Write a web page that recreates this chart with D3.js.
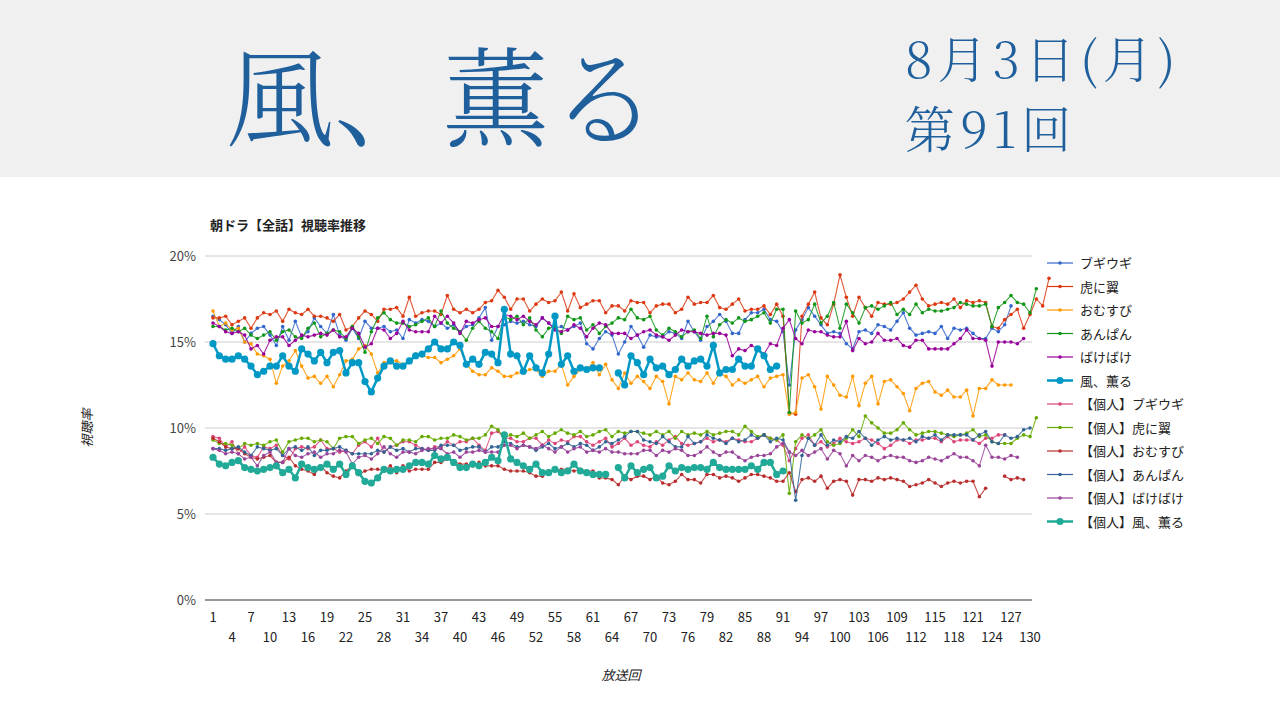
<!DOCTYPE html><html><head><meta charset="utf-8">
<script src="https://cdn.jsdelivr.net/npm/d3@7"></script>
<style>body{margin:0;background:#fff;font-family:"Noto Sans CJK JP","Noto Sans",sans-serif}</style></head><body>
<svg id="c" width="1280" height="720"></svg>
<script>
const seriesNames=["ブギウギ","虎に翼","おむすび","あんぱん","ばけばけ","風、薫る","【個人】ブギウギ","【個人】虎に翼","【個人】おむすび","【個人】あんぱん","【個人】ばけばけ","【個人】風、薫る"];
const colors=["#3366cc","#dc3912","#ff9900","#109618","#990099","#0099c6","#dd4477","#66aa00","#b82e2e","#316395","#994499","#22aa99"];
const yTicks=[0,5,10,15,20];
const boogie=[16.5,16.3,16.0,15.5,15.9,15.0,15.5,15.8,15.9,15.4,14.8,15.9,15.1,16.2,15.3,15.6,16.4,15.9,15.5,16.6,15.4,15.1,15.8,15.2,16.2,15.8,15.8,15.9,15.6,15.7,15.2,16.3,16.1,16.3,16.2,15.9,16.1,15.8,16.0,15.6,15.9,16.0,16.4,17.0,15.1,15.9,16.0,16.2,16.1,16.2,16.0,15.9,16.4,16.1,15.8,15.9,15.7,15.9,16.1,14.9,14.6,15.2,15.6,15.4,14.3,15.0,15.9,15.4,14.7,15.4,15.3,15.3,15.6,15.5,15.2,16.2,15.6,15.1,15.9,16.2,16.6,16.2,15.5,15.5,16.3,16.7,16.7,16.9,16.3,16.2,15.6,12.5,15.7,16.3,17.0,16.5,16.0,15.5,15.6,15.5,14.9,14.6,15.6,15.7,15.5,16.0,15.9,15.7,16.2,16.7,15.8,15.4,15.5,15.6,15.5,15.9,15.2,15.8,15.7,15.8,15.5,15.2,15.2,15.8,15.6,16.0,17.1];
const tora=[16.4,16.4,16.5,16.0,16.2,16.4,15.8,16.4,16.7,16.6,16.8,16.2,16.9,16.7,16.6,16.9,16.5,16.5,16.4,16.2,16.6,15.7,15.9,16.4,16.8,16.6,16.2,16.9,16.9,17.0,16.5,17.6,16.5,16.7,16.8,16.8,16.6,17.7,16.9,16.7,16.9,16.7,16.9,17.3,17.4,18.0,17.6,16.9,17.5,17.5,16.8,17.2,17.5,17.3,17.4,17.9,16.8,17.8,17.0,17.2,17.4,17.4,16.7,17.1,17.1,16.8,17.4,17.3,17.3,16.7,17.1,17.2,17.2,16.7,16.9,17.6,17.2,17.3,17.3,17.7,17.0,16.9,17.2,17.5,16.8,16.9,16.9,17.1,16.6,17.2,16.5,10.9,10.8,16.5,17.2,17.9,16.4,16.0,17.2,18.9,17.6,16.5,17.6,17.0,16.5,17.3,17.2,17.2,17.3,17.5,17.9,18.3,17.5,17.1,17.2,17.3,17.2,17.5,17.0,17.4,17.3,17.4,17.3,15.9,15.8,16.3,16.6,16.9,15.8,16.6,17.5,17.1,18.7];
const omusubi=[16.8,15.9,16.1,15.7,15.8,15.0,14.9,14.3,14.2,14.0,12.6,13.6,13.9,14.5,13.6,12.9,13.0,12.6,13.0,12.4,13.1,13.9,14.0,14.6,14.8,14.3,13.2,13.8,13.9,13.9,13.7,13.9,14.3,14.2,14.1,14.1,13.8,14.0,14.2,14.6,13.7,13.3,13.1,13.1,13.5,13.3,13.0,13.0,13.2,13.2,13.4,13.4,13.0,13.3,13.3,13.7,12.5,13.0,13.4,13.4,13.8,13.1,13.7,12.8,12.3,13.2,12.6,13.0,12.7,12.3,13.0,12.7,11.4,13.0,12.8,13.2,12.8,12.7,13.2,12.6,13.2,13.0,12.5,12.8,12.6,12.8,13.0,12.4,12.9,13.0,13.1,10.8,10.9,12.9,13.1,12.4,11.1,13.0,12.5,11.9,11.8,13.0,11.3,12.6,13.0,11.4,12.7,12.8,12.4,12.0,11.0,12.3,12.6,12.7,12.1,11.9,12.2,11.8,11.8,12.2,10.7,12.3,12.3,12.8,12.5,12.5,12.5];
const anpan=[15.9,15.9,15.7,15.8,15.6,15.8,15.4,15.2,15.4,15.6,15.1,15.6,15.7,15.3,15.2,15.8,16.1,15.3,15.5,15.7,15.6,15.2,15.9,15.3,14.4,15.6,16.4,16.7,16.3,16.1,16.1,15.9,16.0,16.2,16.4,15.9,16.8,16.1,15.8,15.6,15.1,15.8,16.2,15.8,15.6,15.2,16.5,16.3,16.5,16.0,16.4,15.7,15.3,15.8,15.9,15.5,16.5,16.3,16.4,15.7,16.0,15.5,15.9,16.1,16.4,16.3,16.9,16.4,16.3,16.5,15.7,15.4,15.8,15.6,15.3,15.6,15.7,15.2,16.5,15.3,16.0,16.3,16.1,16.4,16.2,16.3,16.5,16.7,16.1,16.9,16.9,10.9,16.8,16.1,16.3,17.2,16.1,16.5,17.3,15.8,17.2,16.7,16.1,17.0,17.1,16.9,17.1,17.3,16.6,16.9,16.6,17.2,16.7,16.9,16.8,16.8,16.9,17.0,17.3,17.2,17.1,17.1,17.2,15.9,17.0,17.3,17.7,17.3,17.2,16.7,18.1];
const bakebake=[16.1,15.9,15.6,15.5,15.6,15.4,14.6,14.8,14.3,15.1,15.3,15.3,14.8,15.1,15.4,15.3,15.4,15.5,15.4,15.7,15.3,15.3,15.8,15.5,14.7,14.9,15.8,15.7,15.2,15.5,16.2,15.7,15.6,15.6,15.6,16.5,16.1,16.5,16.1,15.5,16.2,16.1,16.3,16.4,15.9,15.9,16.6,16.5,16.3,16.5,16.2,16.0,16.4,16.1,15.7,15.6,15.7,16.0,15.8,15.3,15.8,16.1,16.0,15.5,15.5,15.5,15.2,15.4,15.6,15.7,15.4,15.3,15.1,15.4,15.7,15.6,15.6,15.5,15.4,15.5,15.5,15.4,14.2,14.6,14.5,14.8,14.6,14.3,14.9,14.8,15.8,16.3,15.2,14.9,15.7,15.6,15.6,15.4,15.3,15.3,16.2,14.5,15.2,14.9,15.0,15.5,15.1,15.1,15.2,14.8,14.7,15.1,15.1,14.6,14.6,14.6,14.6,14.9,15.2,15.7,15.2,15.2,15.1,13.6,15.0,15.0,15.0,14.9,15.2];
const kaoru=[14.9,14.2,14.0,14.0,14.2,14.0,13.6,13.1,13.3,13.6,13.6,14.2,13.6,13.3,14.6,14.3,13.9,14.4,13.8,14.4,14.5,13.2,13.8,13.8,12.7,12.1,12.9,13.6,13.9,13.6,13.6,13.9,14.2,14.3,14.6,15.0,14.6,14.6,15.0,14.8,13.7,14.0,13.7,14.4,14.3,13.8,16.9,14.3,14.2,13.3,14.2,13.5,13.2,14.3,16.5,13.7,14.2,13.3,13.5,13.4,13.5,13.5,null,null,13.2,12.5,14.2,13.8,13.1,14.0,13.5,13.6,13.1,13.4,14.0,13.6,13.9,14.0,13.6,14.8,13.2,13.4,13.4,14.0,13.6,13.6,14.6,14.2,13.4,13.6];
const p_boogie=[9.5,9.4,8.9,9.2,8.5,8.9,8.4,8.3,8.9,8.8,9.0,8.4,8.2,8.8,8.9,8.8,8.9,9.3,8.8,8.8,8.6,8.7,8.5,9.0,9.2,8.9,9.4,8.6,8.9,9.0,9.2,9.2,9.0,8.8,8.7,8.9,8.9,9.2,9.0,9.2,9.2,9.4,9.0,8.7,9.7,9.8,9.4,9.4,9.2,9.2,9.4,9.4,9.0,9.3,9.1,9.3,9.2,9.5,9.5,9.2,9.0,9.2,9.4,8.9,9.1,9.4,9.0,9.2,9.0,8.9,9.2,9.0,9.3,9.5,9.1,9.0,9.1,9.2,9.4,9.2,9.3,9.2,9.4,9.3,9.2,9.2,9.4,9.6,9.4,9.3,9.0,8.1,8.8,9.4,9.6,9.0,9.2,8.9,9.1,9.4,9.2,9.1,9.2,9.4,9.3,9.1,8.8,9.0,9.3,9.3,9.1,9.3,9.3,9.4,9.4,9.2,9.5,9.2,9.3,9.3,9.3,9.1,9.4,9.4,9.6,9.6];
const p_tora=[9.3,9.1,9.1,9.0,8.8,9.1,9.0,9.1,9.0,9.2,9.3,8.6,9.2,9.3,9.4,9.4,9.2,9.3,9.2,8.8,9.4,9.5,9.5,9.1,9.3,9.4,9.1,9.5,9.4,9.0,9.3,9.3,9.2,9.5,9.5,9.3,9.4,9.4,9.6,9.5,9.3,9.4,9.4,9.6,10.1,9.9,9.4,9.6,9.5,9.7,9.4,9.6,9.8,9.5,9.7,9.9,9.7,9.6,9.8,9.5,9.6,9.8,9.9,9.5,9.8,9.7,9.8,9.8,9.7,9.6,9.8,9.6,9.8,9.4,9.8,9.6,9.7,9.6,9.8,9.6,9.7,9.8,9.8,9.6,10.1,9.8,9.5,9.6,9.4,9.3,9.6,6.2,9.2,9.6,9.4,9.6,9.9,9.2,9.0,9.1,9.4,9.9,9.5,10.7,10.3,10.0,9.7,9.7,9.9,10.3,9.9,9.6,9.7,9.8,9.8,9.7,9.6,9.5,9.6,9.7,9.9,9.5,9.6,9.2,9.1,9.1,9.1,9.4,9.6,9.5,10.6];
const p_omusubi=[9.4,9.2,8.9,8.8,8.8,8.5,8.3,8.2,8.3,8.4,8.0,8.0,8.3,7.8,7.6,7.5,7.3,7.8,7.4,7.2,7.1,7.5,7.8,7.3,7.5,7.6,7.6,7.5,7.8,7.4,7.8,7.5,7.6,7.6,7.6,8.0,8.0,8.2,8.1,7.9,7.9,7.8,8.0,7.8,7.8,7.8,7.6,7.5,7.5,7.5,7.4,7.2,7.2,7.5,7.5,7.6,7.6,7.5,7.6,7.5,7.5,7.1,7.1,7.0,6.7,7.2,7.0,7.2,7.2,7.0,7.2,6.8,6.7,6.9,7.3,7.0,7.0,6.8,7.3,7.3,7.1,7.2,7.1,6.9,7.1,7.3,7.3,7.2,7.1,6.9,6.9,7.4,6.3,7.0,7.1,6.9,7.2,6.5,6.9,7.0,6.9,6.1,7.0,7.0,6.9,7.1,7.0,7.1,7.0,6.9,6.6,6.7,6.8,7.0,6.8,6.6,6.8,6.9,6.8,6.9,6.9,6.0,6.5,null,null,7.2,7.0,7.1,7.0];
const p_anpan=[8.8,8.8,8.7,8.8,8.9,8.6,8.4,8.9,8.8,8.7,8.8,8.4,8.8,8.9,8.7,8.9,8.4,8.7,8.7,8.8,8.9,8.7,8.5,8.5,8.5,8.5,8.7,8.6,8.9,8.7,8.8,8.6,8.8,8.8,8.7,8.7,9.0,9.0,9.0,8.7,8.8,8.9,8.9,8.6,8.9,8.9,9.2,9.1,8.9,9.0,8.9,8.7,8.9,9.1,8.8,8.9,9.1,8.9,9.1,9.0,8.7,8.9,9.2,9.1,9.3,9.5,9.8,9.8,9.3,9.2,9.1,9.5,9.2,8.9,8.9,9.5,9.1,9.2,9.6,9.4,9.3,9.1,9.4,9.2,9.3,9.6,9.4,9.6,9.2,9.4,9.3,8.6,5.8,8.4,9.4,9.0,9.6,9.0,9.3,9.2,9.5,9.4,9.8,9.4,9.0,9.3,9.5,9.3,9.4,9.3,9.4,9.2,9.5,9.4,9.6,9.3,9.6,9.6,9.6,9.6,9.3,9.6,9.8,9.2,9.1,9.6,9.4,9.5,9.9,10.0];
const p_bake=[8.8,8.7,8.5,8.6,8.5,8.2,8.3,7.8,8.4,8.6,8.0,8.0,8.8,8.4,8.3,8.5,8.6,8.3,8.5,8.5,8.7,8.6,7.9,8.3,8.4,8.2,8.5,8.9,8.5,8.3,8.6,8.6,8.5,8.7,8.8,8.8,8.8,8.5,8.6,8.3,8.6,8.6,8.7,8.6,8.6,8.6,9.0,9.0,8.8,9.0,8.9,8.8,9.0,8.8,8.6,8.9,8.6,8.8,8.9,8.6,8.7,8.6,8.8,8.6,8.6,8.5,8.5,8.5,8.7,8.7,8.4,8.7,8.6,8.8,8.7,8.4,8.4,8.6,8.9,8.6,8.4,8.6,8.6,8.3,8.1,8.3,8.4,8.4,8.5,8.9,9.1,8.6,8.4,8.7,8.4,8.6,8.8,8.2,8.7,8.5,7.8,8.4,8.1,8.4,8.3,8.1,8.3,8.4,8.3,8.3,8.1,8.0,8.1,8.3,8.2,8.1,8.3,8.5,8.3,8.3,8.1,7.8,9.0,8.3,8.3,8.2,8.4,8.3];
const p_kaoru=[8.3,7.9,7.8,8.0,8.1,7.7,7.6,7.5,7.6,7.7,7.8,7.4,7.6,7.1,7.9,7.7,7.6,7.7,7.9,7.6,7.9,7.3,7.8,7.4,6.9,6.8,7.1,7.6,7.5,7.6,7.6,7.8,8.0,8.0,7.9,8.4,8.2,8.3,8.0,7.7,7.7,7.9,7.8,8.0,8.3,8.1,9.6,8.2,8.0,7.8,7.6,7.9,7.4,7.4,7.6,7.4,7.5,7.9,7.5,7.4,7.3,7.3,7.3,null,7.7,7.1,7.8,7.4,7.6,7.7,7.1,7.2,7.8,7.5,7.7,7.6,7.7,7.7,7.6,8.0,7.7,7.6,7.6,7.6,7.6,7.8,7.6,8.0,8.0,7.3,7.5];
const allData=[boogie,tora,omusubi,anpan,bakebake,kaoru,p_boogie,p_tora,p_omusubi,p_anpan,p_bake,p_kaoru];
const xTicks=d3.range(1,131,3);

const svg=d3.select("#c");
svg.append("rect").attr("width",1280).attr("height",177).attr("fill","#f0f0f0");
const tc="#1f5f9c";
svg.append("text").attr("x",226).attr("y",138).attr("font-size",108).attr("fill",tc).attr("font-family","'Noto Serif CJK JP',serif").attr("font-weight",300).text("風、薫る");
svg.append("text").attr("x",905).attr("y",78).attr("font-size",50).attr("fill",tc).attr("font-family","'Noto Serif CJK JP',serif").attr("font-weight",300).attr("letter-spacing","5").text("8月3日(月)");
svg.append("text").attr("x",905).attr("y",148).attr("font-size",50).attr("fill",tc).attr("font-family","'Noto Serif CJK JP',serif").attr("font-weight",300).attr("letter-spacing","5").text("第91回");

const x=d3.scaleLinear().domain([1,130]).range([213,1030]);
const y=d3.scaleLinear().domain([0,20]).range([600,256]);
svg.append("text").attr("x",210).attr("y",230).attr("font-size",13).attr("font-weight","bold").attr("fill","#222").text("朝ドラ【全話】視聴率推移");
const g=svg.append("g");
yTicks.forEach(t=>{
 g.append("line").attr("x1",205).attr("x2",1032).attr("y1",y(t)).attr("y2",y(t)).attr("stroke",t===0?"#333":"#ccc");
 g.append("text").attr("x",196).attr("y",y(t)+5).attr("text-anchor","end").attr("font-size",13).attr("fill","#444").text(t+"%");
});
xTicks.forEach((t,i)=>{
 g.append("text").attr("x",x(t)).attr("y",i%2?642:622).attr("text-anchor","middle").attr("font-size",13).attr("fill","#222").text(t);
});
svg.append("text").attr("transform","translate(92,428) rotate(-90)").attr("text-anchor","middle").attr("font-size",13).attr("font-style","italic").attr("fill","#222").text("視聴率");
svg.append("text").attr("x",621).attr("y",680).attr("text-anchor","middle").attr("font-size",13).attr("font-style","italic").attr("fill","#222").text("放送回");

const order=[6,7,8,9,10,0,1,2,3,4,11,5];
order.forEach(si=>{
 const d=allData[si].map((v,i)=>({i:i+1,v}));
 const thick=(si===5||si===11);
 const line=d3.line().defined(p=>p.v!=null).x(p=>x(p.i)).y(p=>y(p.v));
 g.append("path").attr("d",line(d)).attr("fill","none").attr("stroke",colors[si]).attr("stroke-width",thick?2.5:1.1).attr("stroke-opacity",thick?1:0.85);
 g.selectAll(null).data(d.filter(p=>p.v!=null)).enter().append("circle").attr("cx",p=>x(p.i)).attr("cy",p=>y(p.v)).attr("r",thick?3.6:1.8).attr("fill",colors[si]);
});
seriesNames.forEach((n,i)=>{
 const yy=263+i*23.5; const thick=(i===5||i===11);
 svg.append("line").attr("x1",1047).attr("x2",1073).attr("y1",yy).attr("y2",yy).attr("stroke",colors[i]).attr("stroke-width",thick?2.5:1.2);
 svg.append("circle").attr("cx",1060).attr("cy",yy).attr("r",thick?3.6:1.8).attr("fill",colors[i]);
 svg.append("text").attr("x",1080).attr("y",yy+5).attr("font-size",13).attr("fill","#222").text(n);
});
</script></body></html>
